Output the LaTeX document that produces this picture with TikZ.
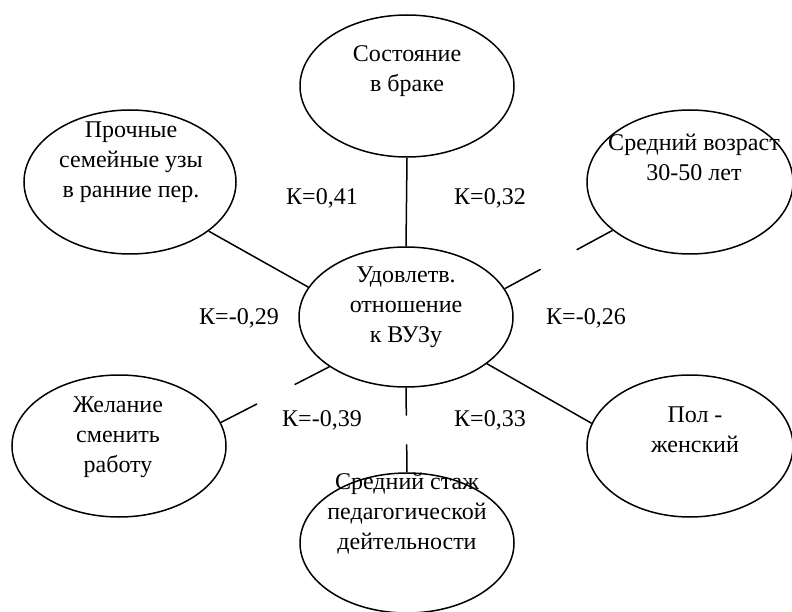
\documentclass[tikz,border=0pt]{standalone}
\usepackage{fontspec}
\setmainfont{Liberation Serif}
\usetikzlibrary{shapes.geometric,calc}
\begin{document}
\begin{tikzpicture}[x=1pt,y=-1pt,
  oval/.style={draw, ellipse, line width=1.5pt, inner sep=0pt},
  txt/.style={align=center, inner sep=0pt, font=\fontsize{24}{30}\selectfont},
  link/.style={line width=1.5pt}]
\useasboundingbox (0,0) rectangle (792,612);
% ellipses
\node[oval, minimum width=214pt, minimum height=140pt] (c)  at (406,317) {};
\node[oval, minimum width=214pt, minimum height=142pt] (t)  at (407,86)  {};
\node[oval, minimum width=212pt, minimum height=144pt] (lt) at (130,182) {};
\node[oval, minimum width=206pt, minimum height=144pt] (rt) at (690,182) {};
\node[oval, minimum width=214pt, minimum height=142pt] (lb) at (119,446) {};
\node[oval, minimum width=206pt, minimum height=142pt] (rb) at (690,446) {};
\node[oval, minimum width=214pt, minimum height=140pt] (b)  at (407,543) {};
% texts
\node[txt] (ctx)  at (406,307) {Удовлетв.\\отношение\\к ВУЗу};
\node[txt] (ttx)  at (407,71)  {Состояние\\в браке};
\node[txt] (lttx) at (131,162) {Прочные\\семейные узы\\в ранние пер.};
\node[txt] (rttx) at (694,157) {Средний возраст\\30-50 лет};
\node[txt] (lbtx) at (118,437) {Желание\\сменить\\работу};
\node[txt] (rbtx) at (695,430) {Пол -\\женский};
\node[txt] (btx)  at (407,514) {Средний стаж\\педагогической\\дейтельности};
% coefficients
\node[txt] (k1) at (322,198) {К=0,41};
\node[txt] (k2) at (490,198) {К=0,32};
\node[txt] (k3) at (239,318) {К=-0,29};
\node[txt] (k4) at (586,318) {К=-0,26};
\node[txt] (k5) at (322,420) {К=-0,39};
\node[txt] (k6) at (490,420) {К=0,33};
% connectors
\draw[link] (t.south) -- (c.north);
\draw[link] (c.163.5) -- (lt.-32.6);
\draw[link] (c.16.3) -- ($(c.16.3)!0.333!(rt.-148)$);
\draw[link] ($(c.16.3)!0.667!(rt.-148)$) -- (rt.-148);
\draw[link] (c.-147.7) -- ($(c.-147.7)!0.32!(lb.13)$);
\draw[link] ($(c.-147.7)!0.667!(lb.13)$) -- (lb.13);
\draw[link] (c.-30.9) -- (rb.167.2);
\draw[link] (c.south) -- ($(c.south)!0.33!(b.north)$);
\draw[link] ($(c.south)!0.67!(b.north)$) -- (b.north);
\end{tikzpicture}
\end{document}
